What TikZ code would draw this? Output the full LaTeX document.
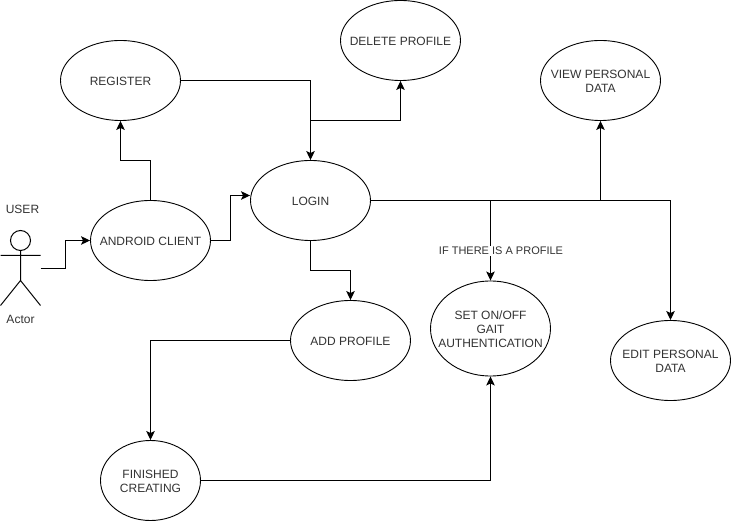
\documentclass[tikz,border=0pt]{standalone}
\usepackage{fontspec}
\setmainfont{Liberation Sans}
\usetikzlibrary{arrows.meta,calc,shapes.geometric}
\tikzset{
  usecase/.style={draw=black,line width=0.9pt,fill=white,ellipse,minimum width=120pt,minimum height=80pt,inner sep=0pt},
  uctext/.style={align=center,inner sep=0pt,yshift=-0.5pt,font=\fontsize{12}{14}\selectfont,text=black!80},
  conn/.style={draw=black,line width=1pt,-{Stealth[length=9pt,width=8.5pt,inset=2pt]}},
  link/.style={draw=black,line width=1pt},
  limb/.style={draw=black,line width=1pt},
  caption/.style={font=\fontsize{12}{14}\selectfont,text=black!80,inner sep=0pt},
  note/.style={font=\fontsize{11}{13}\selectfont,text=black!80,fill=white,inner sep=1pt}
}
\begin{document}
\begin{tikzpicture}[x=1pt,y=-1pt]
\useasboundingbox[fill=white] (0,0) rectangle (731,521);
\begin{scope}[shift={(0.5,0.5)}]
\node[usecase,label={[uctext]center:REGISTER}] (register) at (120,80) {};
\node[usecase,label={[uctext]center:DELETE PROFILE}] (delete) at (400,40) {};
\node[usecase,label={[uctext]center:{VIEW PERSONAL\\DATA}}] (view) at (600,80) {};
\node[usecase,label={[uctext]center:LOGIN}] (login) at (310,200) {};
\node[usecase,label={[uctext]center:ANDROID CLIENT}] (android) at (150,240) {};
\node[usecase,label={[uctext]center:ADD PROFILE}] (add) at (350,340) {};
\node[usecase,minimum height=95pt,label={[uctext]center:{SET ON/OFF\\GAIT\\AUTHENTICATION}}] (gait) at (490,328) {};
\node[usecase,label={[uctext]center:{EDIT PERSONAL\\DATA}}] (edit) at (670,360) {};
\node[usecase,minimum width=100pt,label={[uctext]center:{FINISHED\\CREATING}}] (finished) at (150,480) {};
% actor
\node[draw=black,line width=1pt,circle,minimum size=20pt,inner sep=0pt] (head) at (20,240) {};
\coordinate (hip) at (20,280);
\coordinate (armL) at (0,255);
\coordinate (armR) at (40,255);
\coordinate (footL) at (0,305);
\coordinate (footR) at (40,305);
\coordinate (actorOut) at (40,268);
\draw[limb] (head.south) -- (hip) (armL) -- (armR) (footL) -- (hip) -- (footR);
\node[caption] (user) at (22,209) {USER};
\node[caption] (actor) at (20,319) {Actor};
% connectors
\draw[conn] (actorOut) -- (65,268) |- (android.west);
\draw[conn] (android.north) -- (150,160) -| (register.south);
\draw[conn] (android.east) -- (230,240) |- ($(login.west)+(0,-5)$);
\draw[conn] (register.east) -| (login.north);
\coordinate (branch) at (310,120);
\draw[conn] (branch) -| (delete.south);
\draw[conn] (login.east) -| (view.south);
\draw[link] (login.east) -- (490,200);
\draw[conn] (490,200) -- (gait.north);
\draw[conn] (login.east) -| (edit.north);
\draw[conn] (login.south) -- (310,270) -| (add.north);
\draw[conn] (add.west) -| (finished.north);
\draw[conn] (finished.east) -| (gait.south);
\node[note] (ifnote) at (500.5,250.5) {IF THERE IS A PROFILE};
\end{scope}
\end{tikzpicture}
\end{document}
